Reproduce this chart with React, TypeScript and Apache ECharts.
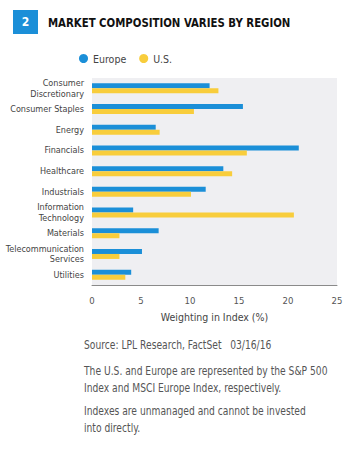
import React, { useEffect, useRef } from "react";
import * as echarts from "echarts";

const categories = [
  "Consumer\nDiscretionary",
  "Consumer Staples",
  "Energy",
  "Financials",
  "Healthcare",
  "Industrials",
  "Information\nTechnology",
  "Materials",
  "Telecommunication\nServices",
  "Utilities",
];
const europe = [12.0, 15.4, 6.5, 21.1, 13.4, 11.6, 4.2, 6.8, 5.1, 4.0];
const us = [12.9, 10.4, 6.9, 15.8, 14.3, 10.1, 20.6, 2.8, 2.8, 3.4];
const xTicks = [0, 5, 10, 15, 20, 25];
const titleText = "MARKET COMPOSITION VARIES BY REGION";
const figNumber = "2";
const axisName = "Weighting in Index (%)";
const footnotes = [
  "Source: LPL Research, FactSet   03/16/16",
  "The U.S. and Europe are represented by the S&P 500\nIndex and MSCI Europe Index, respectively.",
  "Indexes are unmanaged and cannot be invested\ninto directly.",
];

const BLUE = "#1b8fd8";
const YELLOW = "#f8cd3c";
const FONT = "'DejaVu Sans Condensed', 'Liberation Sans Narrow', Roboto, sans-serif";

export default function App() {
  const ref = useRef<HTMLDivElement>(null);
  useEffect(() => {
    if (!ref.current) return;
    const chart = echarts.init(ref.current, null, { renderer: "svg" });
    chart.setOption({
      animation: false,
      backgroundColor: "#ffffff",
      textStyle: { fontFamily: FONT },
      legend: {
        left: 74,
        top: 48,
        icon: "circle",
        itemWidth: 9,
        itemHeight: 9,
        itemGap: 13,
        textStyle: { fontFamily: FONT, fontSize: 10.5, color: "#444" },
        data: ["Europe", "U.S."],
      },
      grid: {
        left: 92,
        right: 22,
        top: 78,
        bottom: 167,
        show: true,
        backgroundColor: "#efeff2",
        borderWidth: 0,
        containLabel: false,
        outerBoundsMode: "none",
      },
      xAxis: {
        type: "value",
        min: xTicks[0],
        max: xTicks[xTicks.length - 1],
        interval: 5,
        splitLine: { show: false },
        axisLine: { show: true, lineStyle: { color: "#8a8a8a", width: 1 } },
        axisTick: { show: false },
        axisLabel: { fontFamily: FONT, fontSize: 9.5, color: "#555", margin: 10 },
        name: axisName,
        nameLocation: "middle",
        nameGap: 26,
        nameTextStyle: { fontFamily: FONT, fontSize: 10.5, color: "#444" },
      },
      yAxis: {
        type: "category",
        data: categories,
        inverse: true,
        axisLine: { show: false },
        axisTick: { show: false },
        axisLabel: {
          fontFamily: FONT,
          fontSize: 9,
          color: "#444",
          margin: 8,
          lineHeight: 10.5,
        },
      },
      series: [
        {
          name: "Europe",
          type: "bar",
          data: europe,
          barWidth: 5,
          barGap: "0%",
          itemStyle: { color: BLUE },
        },
        {
          name: "U.S.",
          type: "bar",
          data: us,
          barWidth: 5,
          itemStyle: { color: YELLOW },
        },
      ],
      graphic: [
        { type: "rect", shape: { x: 13, y: 10, width: 25, height: 24 }, style: { fill: BLUE } },
        {
          type: "text",
          x: 25.5,
          y: 22,
          style: {
            text: figNumber,
            fill: "#fff",
            font: `bold 12px ${FONT}`,
            align: "center",
            verticalAlign: "middle",
          },
        },
        {
          type: "text",
          x: 48,
          y: 23,
          scaleX: 0.87,
          style: {
            text: titleText,
            fill: "#111",
            font: `bold 13px ${FONT}`,
            verticalAlign: "middle",
          },
        },
        {
          type: "text",
          x: 84,
          y: 337,
          scaleX: 0.886,
          style: { text: footnotes[0], fill: "#555", font: `11.5px ${FONT}`, lineHeight: 17 },
        },
        {
          type: "text",
          x: 84,
          y: 363,
          scaleX: 0.886,
          style: { text: footnotes[1], fill: "#555", font: `11.5px ${FONT}`, lineHeight: 17 },
        },
        {
          type: "text",
          x: 84,
          y: 403,
          scaleX: 0.886,
          style: { text: footnotes[2], fill: "#555", font: `11.5px ${FONT}`, lineHeight: 17 },
        },
      ],
    });
    return () => chart.dispose();
  }, []);
  return (
    <div
      ref={ref}
      style={{ position: "fixed", left: 0, top: 0, width: 359, height: 452 }}
    />
  );
}
